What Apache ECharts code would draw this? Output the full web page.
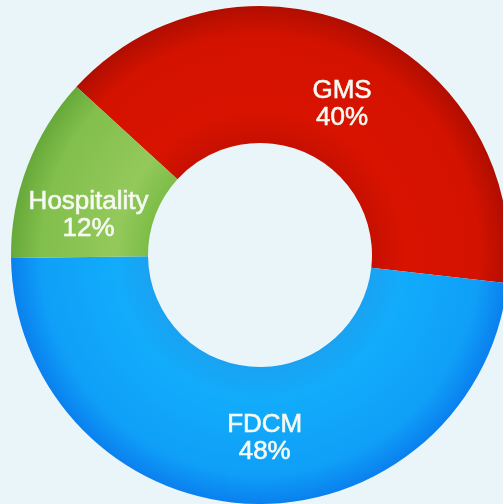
<!DOCTYPE html>
<html>
<head>
<meta charset="utf-8">
<script src="https://cdn.jsdelivr.net/npm/echarts@6/dist/echarts.min.js"></script>
<style>
  html, body { margin: 0; padding: 0; background: #eaf5f9; }
  #chart { width: 503px; height: 504px; }
</style>
</head>
<body>
<div id="chart"></div>
<script>
// Segment data (clockwise from the GMS/Hospitality boundary)
const segments = ['GMS', 'FDCM', 'Hospitality']
const shares = [40, 48, 12]

// Ring shading: inner edge, body, body, outer rim
const palette = {
  GMS: ['#c71000', '#d81300', '#d41200', '#b00e00'],
  FDCM: ['#1aa2f2', '#12acfb', '#0f9ff8', '#0a80ee'],
  Hospitality: ['#7dbd47', '#93c95b', '#82bf4c', '#66a93a']
}

// Small nudges so labels sit where the reference has them
const labelOffset = {
  GMS: [6, 16],
  FDCM: [14, 0],
  Hospitality: [0, 26]
}

const cx = 260, cy = 255, rIn = 112, rOut = 249

const ringColor = (stops) => ({
  type: 'radial',
  x: cx, y: cy, r: rOut,
  global: true,
  colorStops: [
    { offset: rIn / rOut, color: stops[0] },
    { offset: 0.58, color: stops[1] },
    { offset: 0.88, color: stops[2] },
    { offset: 1, color: stops[3] }
  ]
})

const chart = echarts.init(document.getElementById('chart'))

chart.setOption({
  backgroundColor: '#eaf5f9',
  animation: false,
  series: [{
    type: 'pie',
    center: [cx, cy],
    radius: [rIn, rOut],
    startAngle: 137.5,
    clockwise: true,
    label: {
      show: true,
      position: 'inside',
      formatter: '{b}\n{c}%',
      color: '#f6faf2',
      fontFamily: 'Liberation Sans, Arial, sans-serif',
      fontSize: 26,
      lineHeight: 27,
      textBorderColor: '#f6faf2',
      textBorderWidth: 0.6
    },
    labelLine: { show: false },
    emphasis: { disabled: true },
    itemStyle: { borderWidth: 0 },
    data: segments.map((name, i) => ({
      name: name,
      value: shares[i],
      itemStyle: { color: ringColor(palette[name]) },
      label: { offset: labelOffset[name] }
    }))
  }]
})
</script>
</body>
</html>
